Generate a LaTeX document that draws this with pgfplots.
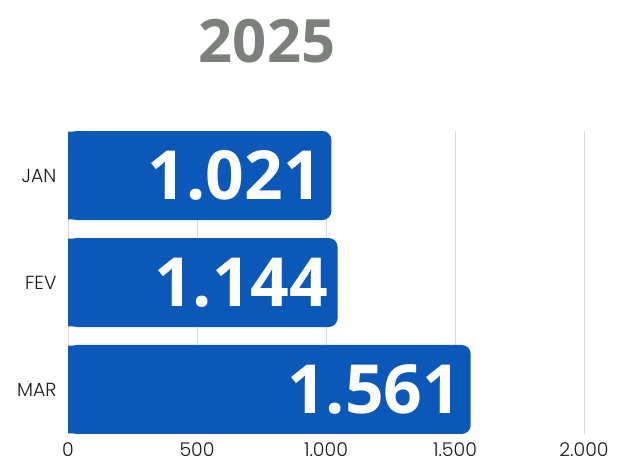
\documentclass[border=0pt]{standalone}
\usepackage{pgfplots}
\pgfplotsset{compat=1.18}
\usepackage{pgfplotstable}
\usepackage{fontspec}
\setmainfont{Poppins}[UprightFont=* Light]
\newfontfamily\opensans{Open Sans}
\definecolor{barblue}{HTML}{0B58B8}
\definecolor{titlegray}{HTML}{7B807B}
\definecolor{gridgray}{HTML}{D9D9D9}
\pgfplotstableread{
y v label
0 1021 1.021
1 1045 1.144
2 1561 1.561
}\data
\begin{document}
\begin{tikzpicture}
\path[use as bounding box] (-68bp,-28bp) rectangle (550bp,434bp);
\begin{axis}[
 at={(0,0)}, anchor=south west, scale only axis,
 width=516bp, height=303bp,
 xmin=0, xmax=2000, ymin=-0.416, ymax=2.416, y dir=reverse,
 xbar, bar width=89bp,
 xtick={0,500,1000,1500,2000},
 xticklabels={0,500,1.000,1.500,2.000},
 ytick={0,1,2}, yticklabels={JAN,FEV,MAR},
 xmajorgrids, major grid style={gridgray, line width=0.9bp},
 axis line style={draw=none}, major tick length=0pt,
 tick label style={font=\fontsize{19}{19}\selectfont, text=black!90},
 xticklabel style={inner sep=1bp, yshift=-7.5bp},
 yticklabel style={xshift=-8bp},
 clip=false,
]
\addplot[fill=barblue, draw=none, bar shift=0pt, bar width=87.6bp] table[x expr=\thisrow{v}/2, y=y] {\data};
\addplot[fill=barblue, draw=none, bar shift=0pt, rounded corners=9bp,
  point meta=explicit symbolic, nodes near coords,
  nodes near coords style={anchor=east, xshift=-6bp, text=white, rounded corners=0pt,
    font=\opensans\bfseries\fontsize{68}{68}\selectfont}]
  table[x=v, y=y, meta=label] {\data};
\end{axis}
\node[font=\opensans\bfseries\fontsize{60}{60}\selectfont, text=titlegray] at (199bp,392.5bp) {2025};
\end{tikzpicture}
\end{document}
